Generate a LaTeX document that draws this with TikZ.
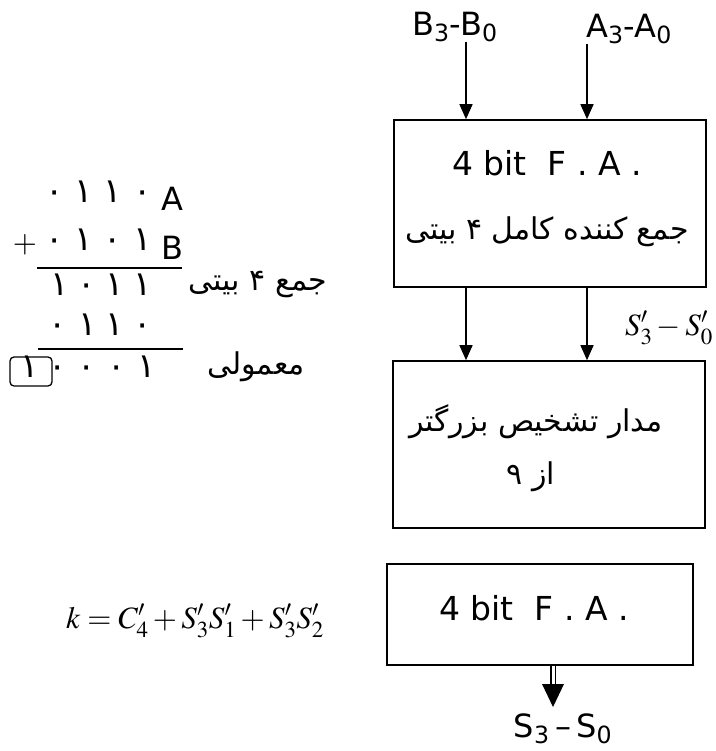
\documentclass[tikz,border=0pt]{standalone}
\usepackage{mathptmx}
\usepackage[no-math]{fontspec}
\setmainfont{DejaVu Sans}
\newfontfamily\fa[Script=Arabic]{DejaVu Sans}
\TeXXeTstate=1
\usetikzlibrary{arrows.meta}
\tikzset{
  box/.style={draw, line width=1.6pt, inner sep=0pt},
  lat/.style={font=\fontsize{33}{36}\selectfont, inner sep=0pt},
  lab/.style={font=\fontsize{32}{36}\selectfont, inner sep=0pt},
  per/.style={font=\fa\fontsize{30}{34}\selectfont, inner sep=0pt},
  dg/.style={font=\fa\fontsize{34}{36}\selectfont, inner sep=0pt, anchor=base},
  mth/.style={font=\fontsize{31}{34}\selectfont, inner sep=0pt},
  arr/.style={line width=1.4pt, -{Triangle[width=13pt,length=15pt]}},
  rule/.style={line width=2pt}
}
\begin{document}
\begin{tikzpicture}[x=1pt,y=-1pt]
\useasboundingbox (0,0) rectangle (715,751);
% column guides
\coordinate (xb) at (466,0);
\coordinate (xa) at (587,0);
% top labels
\node[lab] (lb) at (455,27) {B\textsubscript{3}-B\textsubscript{0}};
\node[lab] (la) at (629,29) {A\textsubscript{3}-A\textsubscript{0}};
% box 1
\node[box, minimum width=312pt, minimum height=167pt] (fa1) at (550,203.5) {};
\node[lat] (fa1t) at (547,163) {4 bit\ \ F . A .};
\node[per] (fa1p) at (547,232) {\beginR جمع کننده کامل ۴ بیتی\endR};
% box 2
\node[box, minimum width=312pt, minimum height=167pt] (cmp) at (549,444.5) {};
\node[per] (cmpa) at (536,422) {\beginR مدار تشخیص بزرگتر\endR};
\node[per] (cmpb) at (531,477) {\beginR از ۹\endR};
% box 3
\node[box, minimum width=306pt, minimum height=101pt] (fa2) at (540,614.5) {};
\node[lat] (fa2t) at (534,608) {4 bit\ \ F . A .};
% arrows
\draw[arr] (lb.south -| xb) -- (fa1.north -| xb);
\draw[arr] (la.south -| xa) -- (fa1.north -| xa);
\draw[arr] (fa1.south -| xb) -- (cmp.north -| xb);
\draw[arr] (fa1.south -| xa) -- (cmp.north -| xa);
\node[mth, anchor=west] (sp) at (625,328) {$S'_3 - S'_0$};
% double arrow
\coordinate (dx) at (553,0);
\coordinate (dm) at (553,684);
\draw[line width=1.2pt, double distance=3pt] (fa2.south -| dx) -- (dm);
\fill (dm) ++(-11,0) -- ++(22,0) -- (553,707) -- cycle;
\node[lab, anchor=base] (s30) at (563,737) {S\textsubscript{3}\,–\,S\textsubscript{0}};
% formula
\node[mth, anchor=west] (kf) at (66,621) {$k = C'_4 + S'_3S'_1 + S'_3S'_2$};
% arithmetic
\node[dg] (r1a) at (55,203) {۰};
\node[dg] (r1b) at (84,203) {۱};
\node[dg] (r1c) at (113,203) {۱};
\node[dg] (r1d) at (143,203) {۰};
\node[lab, anchor=base] (la1) at (172,211) {A};
\node[mth] (plus) at (25,245) {$+$};
\node[dg] (r2a) at (55,250) {۰};
\node[dg] (r2b) at (84,250) {۱};
\node[dg] (r2c) at (113,250) {۰};
\node[dg] (r2d) at (143,250) {۱};
\node[lab, anchor=base] (lb1) at (172,259) {B};
\coordinate (l1a) at (37,268);
\coordinate (l1b) at (182,268);
\draw[rule] (l1a) -- (l1b);
\node[dg] (r3a) at (60,295) {۱};
\node[dg] (r3b) at (87,295) {۰};
\node[dg] (r3c) at (115,295) {۱};
\node[dg] (r3d) at (143,295) {۱};
\node[per] (sum4) at (258,285) {\beginR جمع ۴ بیتی\endR};
\node[dg] (r4a) at (58,335) {۰};
\node[dg] (r4b) at (88,335) {۱};
\node[dg] (r4c) at (115,335) {۱};
\node[dg] (r4d) at (143,335) {۰};
\coordinate (l2a) at (38,349);
\coordinate (l2b) at (183,349);
\draw[rule] (l2a) -- (l2b);
\node[draw, line width=1.3pt, rounded corners=4pt, minimum width=42pt, minimum height=29pt, inner sep=0pt] (cb) at (31,371.5) {};
\node[dg] (r5c) at (30,377) {۱};
\node[dg] (r5a) at (58,377) {۰};
\node[dg] (r5b) at (87,377) {۰};
\node[dg] (r5d) at (117,377) {۰};
\node[dg] (r5e) at (147,377) {۱};
\node[per] (norm) at (256,367) {\beginR معمولی\endR};
\end{tikzpicture}
\end{document}
